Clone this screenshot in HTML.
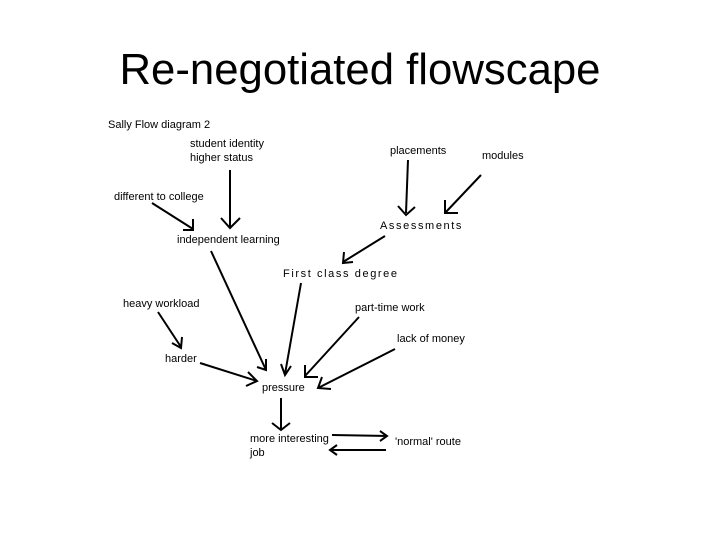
<!DOCTYPE html>
<html><head><style>html,body{margin:0;padding:0;background:#fff}</style></head><body>
<svg width="720" height="540" xmlns="http://www.w3.org/2000/svg" style="display:block">
<rect width="720" height="540" fill="#fff"/>
<g font-family="Liberation Sans, sans-serif" fill="#000">
<text x="360" y="84" font-size="44" text-anchor="middle" textLength="481" lengthAdjust="spacingAndGlyphs">Re-negotiated flowscape</text>
<g font-size="11">
<text x="108" y="128">Sally Flow diagram 2</text>
<text x="190" y="147">student identity</text>
<text x="190" y="161">higher status</text>
<text x="390" y="154">placements</text>
<text x="482" y="159">modules</text>
<text x="114" y="200">different to college</text>
<text x="380" y="229" letter-spacing="1.6">Assessments</text>
<text x="177" y="243">independent learning</text>
<text x="283" y="277" letter-spacing="1.6">First class degree</text>
<text x="123" y="307">heavy workload</text>
<text x="355" y="311">part-time work</text>
<text x="397" y="342">lack of money</text>
<text x="165" y="362">harder</text>
<text x="262" y="391">pressure</text>
<text x="250" y="442">more interesting</text>
<text x="250" y="456">job</text>
<text x="395" y="445">'normal' route</text>
</g>
</g>
<g stroke="#000" stroke-width="2" fill="none">
<path d="M230 170 L230 228 M221 218 L230 228 L240 218"/>
<path d="M152 203 L193 229 M193 219 L193 230 L183 230"/>
<path d="M408 160 L406 213 M398 206 L406 215 L415 207"/>
<path d="M481 175 L445 213 M445 200 L445 213 L458 213"/>
<path d="M385 236 L343 262 M344 252 L343 263 L353 262"/>
<path d="M211 251 L266 370 M266 359 L266 370 L257 367"/>
<path d="M301 283 L285 374 M281 364 L285 375 L291 366"/>
<path d="M359 317 L305 376 M305 365 L305 377 L318 377"/>
<path d="M395 349 L318 388 M322 377 L318 388 L331 389"/>
<path d="M158 312 L181 347 M172 343 L181 348 L182 337"/>
<path d="M200 363 L257 381 M246 386 L257 381 L248 372"/>
<path d="M281 398 L281 430 M272 423 L281 430 L290 423"/>
<path d="M332 435 L387 436 M380 431 L387 436 L380 441"/>
<path d="M386 450 L330 450 M337 445 L330 450 L337 455"/>
</g>
</svg>
</body></html>
